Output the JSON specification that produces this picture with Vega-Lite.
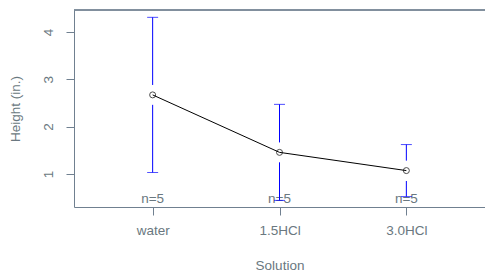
{
  "$schema": "https://vega.github.io/schema/vega-lite/v6.json",
  "autosize": "none",
  "width": 411,
  "height": 197,
  "padding": {"left": 74, "top": 10, "right": 0, "bottom": 67},
  "background": "white",
  "config": {
    "view": {"stroke": null},
    "font": "Liberation Sans",
    "axis": {
      "grid": false,
      "domainColor": "#708090",
      "tickColor": "#708090",
      "labelColor": "#6a7880",
      "titleColor": "#6a7880",
      "labelFontSize": 13.5,
      "titleFontSize": 13.5,
      "titleFontWeight": "normal",
      "labelFont": "Liberation Sans",
      "titleFont": "Liberation Sans",
      "tickSize": 8
    }
  },
  "data": {
    "values": [
      {"idx": 1, "name": "water", "mean": 2.67, "lo": 1.03, "hi": 4.31, "gaplo": 2.46, "gaphi": 2.88, "n": "n=5"},
      {"idx": 2, "name": "1.5HCl", "mean": 1.455, "lo": 0.44, "hi": 2.47, "gaplo": 1.245, "gaphi": 1.665, "n": "n=5"},
      {"idx": 3, "name": "3.0HCl", "mean": 1.07, "lo": 0.52, "hi": 1.62, "gaplo": 0.85, "gaphi": 1.28, "n": "n=5"}
    ]
  },
  "encoding": {
    "x": {
      "field": "idx",
      "type": "quantitative",
      "scale": {"domain": [0.38, 3.62], "nice": false, "zero": false},
      "axis": {
        "values": [1, 2, 3],
        "title": "Solution",
        "labelExpr": "datum.value == 1 ? 'water' : datum.value == 2 ? '1.5HCl' : '3.0HCl'",
        "labelPadding": 8,
        "titlePadding": 22,
        "labelFlush": false
      }
    }
  },
  "layer": [
    {
      "mark": {"type": "rule", "color": "#708090", "strokeWidth": 1},
      "encoding": {"x": null, "y": {"datum": 4.465, "type": "quantitative", "scale": {"domain": [0.3, 4.465], "nice": false, "zero": false}}}
    },
    {
      "mark": {"type": "text", "color": "#6a7880", "fontSize": 13.5, "baseline": "bottom", "dy": -1},
      "encoding": {
        "y": {"datum": 0.3, "type": "quantitative"},
        "text": {"field": "n"}
      }
    },
    {
      "mark": {"type": "rule", "color": "blue", "strokeWidth": 1},
      "encoding": {
        "y": {
          "field": "lo",
          "type": "quantitative",
          "axis": {
            "values": [1, 2, 3, 4],
            "title": "Height (in.)",
            "labelAngle": -90,
            "labelAlign": "center",
            "labelBaseline": "bottom",
            "labelPadding": 11,
            "titlePadding": 19
          }
        },
        "y2": {"field": "gaplo"}
      }
    },
    {
      "mark": {"type": "rule", "color": "blue", "strokeWidth": 1},
      "encoding": {
        "y": {"field": "gaphi", "type": "quantitative"},
        "y2": {"field": "hi"}
      }
    },
    {
      "mark": {"type": "tick", "color": "blue", "orient": "horizontal", "size": 11, "thickness": 1},
      "encoding": {"y": {"field": "lo", "type": "quantitative"}}
    },
    {
      "mark": {"type": "tick", "color": "blue", "orient": "horizontal", "size": 11, "thickness": 1},
      "encoding": {"y": {"field": "hi", "type": "quantitative"}}
    },
    {
      "mark": {"type": "line", "color": "black", "strokeWidth": 1},
      "encoding": {"y": {"field": "mean", "type": "quantitative"}}
    },
    {
      "mark": {"type": "point", "shape": "circle", "filled": false, "color": "black", "size": 36, "strokeWidth": 1},
      "encoding": {"y": {"field": "mean", "type": "quantitative"}}
    }
  ]
}
